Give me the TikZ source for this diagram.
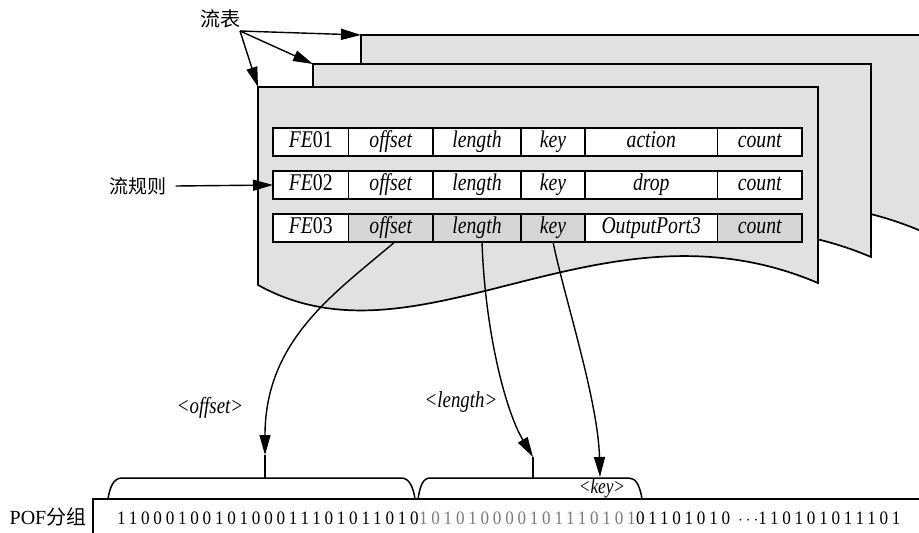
\documentclass[tikz,border=0pt]{standalone}
\usepackage{fontspec}
\setmainfont{Liberation Serif}
\newfontfamily\cellfont{Liberation Serif}[FakeStretch=0.82]
\newfontfamily\cjkfont{Noto Sans CJK SC}
\newfontfamily\bitfont{Liberation Serif}[FakeStretch=0.9,LetterSpace=19.8]
\usetikzlibrary{arrows.meta,calc}
\definecolor{sheetgray}{HTML}{E1E1E1}
\definecolor{cellgray}{HTML}{D6D6D6}
\definecolor{bitgray}{HTML}{7A7A7A}
\tikzset{
  sheet/.style={draw=black, line width=1.7pt, fill=sheetgray, line join=miter},
  cell/.style={draw=black, line width=1.5pt, fill=white, minimum height=28pt,
    inner sep=0pt, outer sep=0pt, text height=15.5pt, text depth=5pt,
    font=\cellfont\fontsize{24}{26}\selectfont\itshape},
  hcell/.style={cell, fill=cellgray},
  arr/.style={-{Triangle[length=20pt,width=11pt]}, line width=1.4pt},
  lbl/.style={font=\cellfont\fontsize{23}{25}\selectfont\itshape, inner sep=0pt},
  cjk/.style={font=\cjkfont\fontsize{19}{22}\selectfont, inner sep=0pt},
  bits/.style={font=\bitfont\fontsize{19}{22}\selectfont, inner sep=0pt},
  bracketline/.style={line width=1.5pt},
}
\begin{document}
\begin{tikzpicture}[x=1pt,y=-1pt]
\useasboundingbox (0,0) rectangle (919,533);
% sheets
\begin{scope}
\clip (0,0) rectangle (919,533);
\draw[sheet] (361,35) -- (923,35) -- (921,231) .. controls (703,138) and (523,323) .. (361,233) -- cycle;
\draw[sheet] (313,64) -- (871,64) -- (871,257) .. controls (653,164) and (475,349) .. (313,259) -- cycle;
\draw[sheet] (258,87) -- (818,87) -- (818,283) .. controls (600,190) and (420,375) .. (258,285) -- cycle;
\end{scope}
\coordinate (backTL) at (361,35);
\coordinate (midTL) at (313,64);
\coordinate (frontTL) at (258,87);

% labels on the left
\node[cjk, font=\cjkfont\fontsize{20}{22}\selectfont] (ft) at (220,19) {流表};
\coordinate (ftsrc) at (240,31);
\draw[arr] (ftsrc) -- (backTL);
\draw[arr] (ftsrc) -- (midTL);
\draw[arr] (ftsrc) -- (frontTL);

% table rows
\foreach \r/\y in {1/142,2/185,3/228} {
  \node[cell, minimum width=75.5pt] (r\r c1) at (310.75,\y) {FE\upshape 0\r};
}
\node[cell, minimum width=84.5pt] (r1c2) at (390.75,142) {offset};
\node[cell, minimum width=88pt]   (r1c3) at (477,142) {length};
\node[cell, minimum width=64pt]   (r1c4) at (553,142) {key};
\node[cell, minimum width=132.5pt] (r1c5) at (651.25,142) {action};
\node[cell, minimum width=84.5pt] (r1c6) at (759.75,142) {count};

\node[cell, minimum width=84.5pt] (r2c2) at (390.75,185) {offset};
\node[cell, minimum width=88pt]   (r2c3) at (477,185) {length};
\node[cell, minimum width=64pt]   (r2c4) at (553,185) {key};
\node[cell, minimum width=132.5pt] (r2c5) at (651.25,185) {drop};
\node[cell, minimum width=84.5pt] (r2c6) at (759.75,185) {count};

\node[hcell, minimum width=84.5pt] (r3c2) at (390.75,228) {offset};
\node[hcell, minimum width=88pt]   (r3c3) at (477,228) {length};
\node[hcell, minimum width=64pt]   (r3c4) at (553,228) {key};
\node[cell, minimum width=132.5pt] (r3c5) at (651.25,228) {OutputPort3};
\node[hcell, minimum width=84.5pt] (r3c6) at (759.75,228) {count};

\node[cjk] (rule) at (138,186) {流规则};
\coordinate (rulesrc) at ($(rule.east)+(9,0)$);
\draw[arr] (rulesrc) -- (r2c1.west);

% packet
\draw[bracketline] (93,533) -- (93,499) -- (919,499);
\node[font=\fontsize{20}{22}\selectfont, inner sep=0pt] (pof) at (48,517) {POF{\cjkfont 分组}};
\node[bits, anchor=base west] (bA) at (117,524) {1100010010100011101011010};
\node[bits, anchor=base west, text=bitgray] (bB) at (bA.base east) {101010000101110101};
\node[bits, anchor=base west] (bC) at (bB.base east) {01101010\ $\cdots$110101011101};

% brackets
\draw[bracketline] (108,499) .. controls (110,486) and (114,478) .. (122,478) -- (401,478)
   .. controls (409,478) and (413,486) .. (415,499);
\draw[bracketline] (265,478) -- (265,455) coordinate (ostub);
\draw[bracketline] (418,499) .. controls (420,486) and (423,478) .. (430,478) -- (629,478)
   .. controls (636,478) and (640,486) .. (642,499);
\draw[bracketline] (533,478) -- (533,457) coordinate (lstub);
\coordinate (kin) at (600,477);

% field curves
\draw[arr] ($(r3c2.south)+(4,0)$) .. controls (335,293) and (265,340) .. (ostub);
\draw[arr] ($(r3c3.south)+(5,0)$) .. controls (485,330) and (505,410) .. (lstub);
\draw[arr] (r3c4.south) .. controls (565,300) and (598,400) .. (kin);

% field labels
\node[lbl] (loff) at (210,408) {<offset>};
\node[lbl] (llen) at (461,402) {<length>};
\node[lbl, font=\cellfont\fontsize{21}{23}\selectfont\itshape] (lkey) at (602,488) {<key>};
\end{tikzpicture}
\end{document}
